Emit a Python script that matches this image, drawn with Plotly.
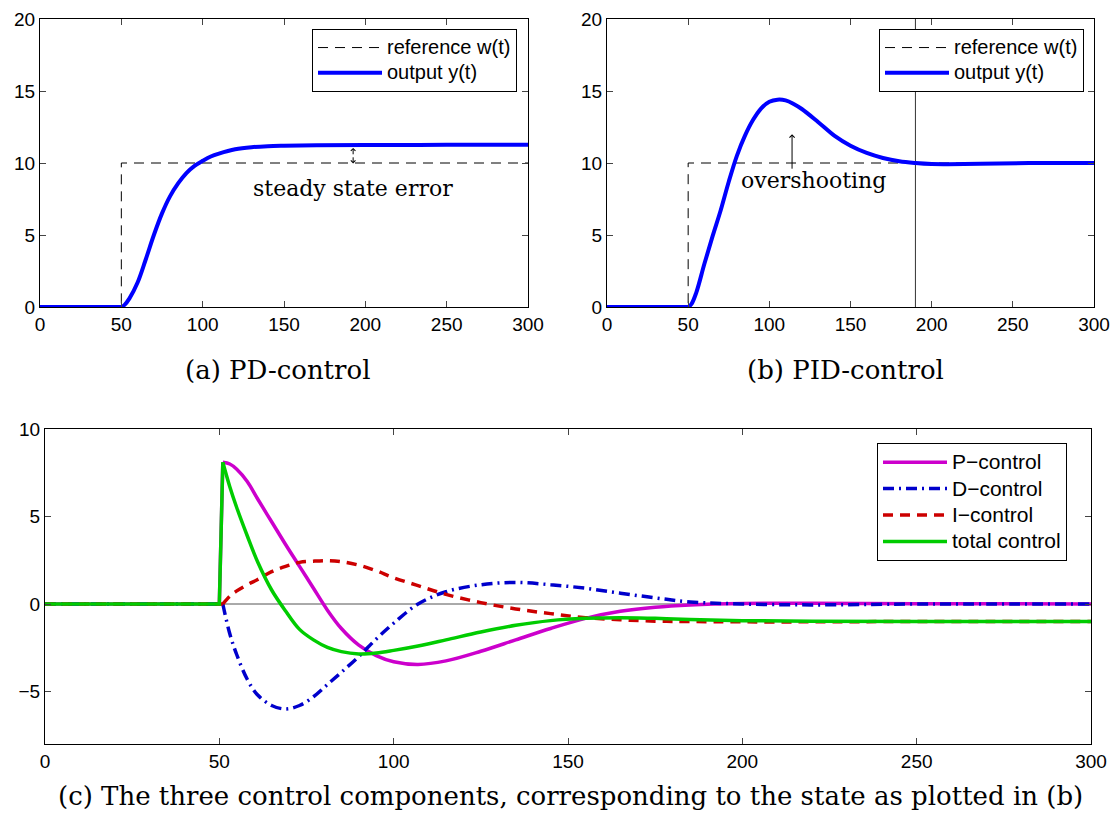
import plotly.graph_objects as go

# ---------------- data ----------------
# reference step w(t)
t_ref = [0, 50, 50, 300]
w_ref = [0, 0, 10, 10]

# (a) PD-control output
t_a = [0, 50, 52, 55, 60, 65, 70, 75, 80, 85, 90, 95, 100, 105, 110, 120, 130, 140, 150, 170, 200, 250, 300]
y_a = [0, 0, 0.15, 0.6, 1.7, 3.3, 5.0, 6.5, 7.7, 8.6, 9.3, 9.8, 10.15, 10.45, 10.65, 10.95, 11.1, 11.17, 11.2, 11.23, 11.25, 11.26, 11.26]

# (b) PID-control output
t_b = [0, 50, 52, 55, 60, 65, 70, 75, 80, 85, 90, 95, 100, 105, 110, 115, 120, 130, 140, 150, 160, 170, 180, 190, 200, 210, 230, 260, 300]
y_b = [0, 0, 0.2, 1.0, 3.0, 4.9, 6.7, 8.7, 10.5, 11.9, 13.0, 13.8, 14.25, 14.4, 14.35, 14.1, 13.75, 12.85, 11.9, 11.2, 10.7, 10.35, 10.12, 10.0, 9.93, 9.92, 9.95, 10.0, 10.0]

# (c) control components
t_c = [0, 50, 51, 53, 55, 58, 61, 65, 69, 73, 77, 81, 85, 90, 95, 100, 107, 115, 125, 135, 145, 155, 165, 175, 185, 200, 220, 250, 300]
p_c = [0, 0, 8.1, 8.0, 7.7, 7.0, 6.0, 4.7, 3.4, 2.15, 0.9, -0.35, -1.4, -2.35, -2.95, -3.3, -3.45, -3.25, -2.7, -2.05, -1.4, -0.82, -0.42, -0.18, -0.05, 0.03, 0.04, 0.02, 0.0]
d_c = [0, 0, 0, -1.7, -2.9, -4.3, -5.2, -5.8, -6.0, -5.8, -5.3, -4.6, -3.9, -3.0, -2.0, -1.1, 0.0, 0.7, 1.1, 1.23, 1.1, 0.9, 0.62, 0.35, 0.12, 0.0, -0.05, 0.0, 0.0]
i_c = [0, 0, 0, 0.45, 0.75, 1.1, 1.4, 1.85, 2.15, 2.38, 2.45, 2.48, 2.42, 2.22, 1.9, 1.5, 1.05, 0.55, 0.08, -0.28, -0.55, -0.78, -0.9, -0.98, -1.0, -1.02, -1.02, -1.0, -1.0]
u_c = [0, 0, 8.1, 6.7, 5.5, 3.9, 2.4, 0.8, -0.4, -1.45, -2.05, -2.48, -2.72, -2.85, -2.8, -2.65, -2.4, -2.05, -1.6, -1.22, -0.95, -0.82, -0.78, -0.82, -0.88, -0.95, -0.98, -1.0, -1.0]

x_ticks = [0, 50, 100, 150, 200, 250, 300]
y_ticks_ab = [0, 5, 10, 15, 20]
y_ticks_c = [-5, 0, 5, 10]

settle_time = 190

# ---------------- figure ----------------
OFF = 8                     # page body margin
W, H = 1118 - 2 * OFF, 818 - 2 * OFF
SANS = "Liberation Sans"
SERIF = "DejaVu Serif"
fig = go.Figure()


def px_x(p):
    return (p - OFF) / W


def px_y(p):
    return 1 - (p - OFF) / H


def big(label, size):
    return '<span style="font-size:%dpx">%s</span>' % (size, label)


ref_dash = "10px,7px"
blue = "#0000FF"

# --- panel a ---
fig.add_trace(go.Scatter(x=t_ref, y=w_ref, mode="lines", name=big("reference w(t)", 20),
                         line=dict(color="black", width=1, dash=ref_dash),
                         xaxis="x", yaxis="y", legend="legend"))
fig.add_trace(go.Scatter(x=t_a[:2], y=y_a[:2], mode="lines", showlegend=False,
                         line=dict(color=blue, width=4), xaxis="x", yaxis="y", hoverinfo="skip"))
fig.add_trace(go.Scatter(x=t_a[1:], y=y_a[1:], mode="lines", name=big("output y(t)", 20),
                         line=dict(color=blue, width=4, shape="spline", smoothing=1.0),
                         xaxis="x", yaxis="y", legend="legend"))

# --- panel b ---
fig.add_trace(go.Scatter(x=[settle_time, settle_time], y=[0, 20], mode="lines", showlegend=False,
                         line=dict(color="#333333", width=1), xaxis="x2", yaxis="y2", hoverinfo="skip"))
fig.add_trace(go.Scatter(x=t_ref, y=w_ref, mode="lines", name=big("reference w(t)", 20),
                         line=dict(color="black", width=1, dash=ref_dash),
                         xaxis="x2", yaxis="y2", legend="legend2"))
fig.add_trace(go.Scatter(x=t_b[:2], y=y_b[:2], mode="lines", showlegend=False,
                         line=dict(color=blue, width=4), xaxis="x2", yaxis="y2", hoverinfo="skip"))
fig.add_trace(go.Scatter(x=t_b[1:], y=y_b[1:], mode="lines", name=big("output y(t)", 20),
                         line=dict(color=blue, width=4, shape="spline", smoothing=1.0),
                         xaxis="x2", yaxis="y2", legend="legend2"))

# --- panel c ---
fig.add_trace(go.Scatter(x=[0, 300], y=[0, 0], mode="lines", showlegend=False,
                         line=dict(color="#555555", width=1), xaxis="x3", yaxis="y3", hoverinfo="skip"))

series_c = [
    ("P\u2212control", p_c, "#CC00CC", "solid"),
    ("D\u2212control", d_c, "#0000CC", "11px,5px,2px,5px"),
    ("I\u2212control", i_c, "#CC0000", "10px,7px"),
    ("total control", u_c, "#00CC00", "solid"),
]
for name, vals, col, dash in series_c:
    fig.add_trace(go.Scatter(x=t_c[:3], y=vals[:3], mode="lines", showlegend=False,
                             line=dict(color=col, width=3.5, dash=dash),
                             xaxis="x3", yaxis="y3", hoverinfo="skip"))
    fig.add_trace(go.Scatter(x=t_c[2:], y=vals[2:], mode="lines", name=big(name, 21),
                             line=dict(color=col, width=3.5, dash=dash, shape="spline", smoothing=1.0),
                             xaxis="x3", yaxis="y3", legend="legend3"))

axis_common = dict(showgrid=False, zeroline=False, showline=True, linecolor="black", linewidth=1,
                   mirror="ticks", ticks="inside", ticklen=6, tickcolor="#444444", tickwidth=1,
                   tickfont=dict(family=SANS, size=19, color="black"), automargin=False)

fig.update_layout(
    width=W, height=H,
    margin=dict(l=0, r=0, t=0, b=0),
    paper_bgcolor="white", plot_bgcolor="white",
    xaxis=dict(domain=[px_x(40), px_x(528)], range=[0, 300], tickvals=x_ticks, anchor="y", **axis_common),
    yaxis=dict(domain=[px_y(307), px_y(19)], range=[0, 20], tickvals=y_ticks_ab, anchor="x", **axis_common),
    xaxis2=dict(domain=[px_x(607), px_x(1094)], range=[0, 300], tickvals=x_ticks, anchor="y2", **axis_common),
    yaxis2=dict(domain=[px_y(307), px_y(19)], range=[0, 20], tickvals=y_ticks_ab, anchor="x2", **axis_common),
    xaxis3=dict(domain=[px_x(45), px_x(1091)], range=[0, 300], tickvals=x_ticks, anchor="y3", **axis_common),
    yaxis3=dict(domain=[px_y(744), px_y(429)], range=[-8, 10], tickvals=y_ticks_c, anchor="x3", **axis_common),
    showlegend=True,
)

legend_common = dict(xref="paper", yref="paper", xanchor="left", yanchor="top",
                     bgcolor="white", bordercolor="black", borderwidth=1,
                     itemwidth=64, tracegroupgap=0, itemclick=False, itemdoubleclick=False)
fig.update_layout(
    legend=dict(x=px_x(312), y=px_y(29), font=dict(family=SANS, size=17, color="black"), **legend_common),
    legend2=dict(x=px_x(879), y=px_y(29), font=dict(family=SANS, size=17, color="black"), **legend_common),
    legend3=dict(x=px_x(877), y=px_y(443), font=dict(family=SANS, size=18, color="black"), **legend_common),
)

annotations = [
    # captions
    dict(text="(a) PD-control", x=px_x(277), y=px_y(370), xref="paper", yref="paper",
         showarrow=False, xanchor="center", yanchor="middle", font=dict(family=SERIF, size=26, color="black")),
    dict(text="(b) PID-control", x=px_x(845), y=px_y(370), xref="paper", yref="paper",
         showarrow=False, xanchor="center", yanchor="middle", font=dict(family=SERIF, size=26, color="black")),
    dict(text="(c) The three control components, corresponding to the state as plotted in (b)",
         x=px_x(570), y=px_y(796), xref="paper", yref="paper",
         showarrow=False, xanchor="center", yanchor="middle", font=dict(family=SERIF, size=26, color="black")),
    # panel a notes
    dict(text="steady state error", x=192.5, y=8.25, xref="x", yref="y", showarrow=False,
         xanchor="center", yanchor="middle", font=dict(family=SERIF, size=22, color="black")),
    dict(text="", x=192.5, y=11.05, ax=192.5, ay=10.5, xref="x", yref="y", axref="x", ayref="y",
         showarrow=True, arrowhead=4, arrowsize=0.9, arrowwidth=1, arrowcolor="black"),
    dict(text="", x=192.5, y=9.97, ax=192.5, ay=10.5, xref="x", yref="y", axref="x", ayref="y",
         showarrow=True, arrowhead=4, arrowsize=0.9, arrowwidth=1, arrowcolor="black"),
    # panel b notes
    dict(text="overshooting", x=127, y=8.75, xref="x2", yref="y2", showarrow=False,
         xanchor="center", yanchor="middle", font=dict(family=SERIF, size=22, color="black")),
    dict(text="", x=114, y=12.0, ax=114, ay=9.5, xref="x2", yref="y2", axref="x2", ayref="y2",
         showarrow=True, arrowhead=4, arrowsize=1.0, arrowwidth=1, arrowcolor="black"),
]
fig.update_layout(annotations=annotations)

fig.write_html("out.html")
